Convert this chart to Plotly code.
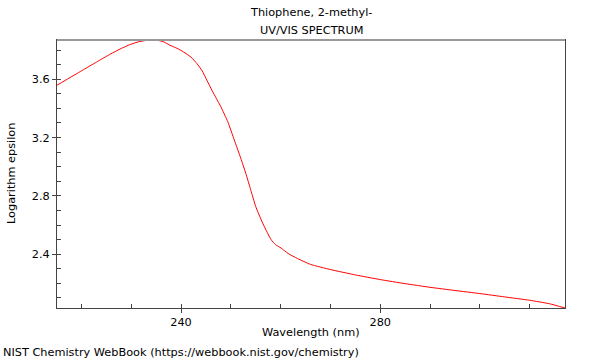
import plotly.graph_objects as go

wavelength_nm = [215.1, 217.5, 220.4, 223.0, 225.8, 228.0, 229.8, 231.5, 232.8, 234.2,
                 235.4, 236.6, 237.8, 239.2, 240.5, 242.0, 243.2, 244.2, 245.2, 246.2,
                 247.1, 248.0, 249.4, 250.7, 252.0, 253.0, 254.0, 255.0, 256.4, 257.3,
                 258.1, 259.0, 260.1, 261.5, 263.4, 266.0, 270.1, 275.0, 280.0, 285.0,
                 290.0, 295.0, 300.0, 305.0, 310.0, 314.0, 317.1]
log_epsilon = [3.559, 3.607, 3.665, 3.717, 3.772, 3.811, 3.838, 3.857, 3.865, 3.868,
               3.866, 3.855, 3.833, 3.812, 3.787, 3.752, 3.707, 3.660, 3.593, 3.525,
               3.468, 3.411, 3.308, 3.183, 3.058, 2.955, 2.841, 2.727, 2.613, 2.550,
               2.499, 2.465, 2.442, 2.405, 2.370, 2.330, 2.294, 2.258, 2.226, 2.198,
               2.173, 2.151, 2.130, 2.107, 2.084, 2.060, 2.031]

x_ticks = [240, 280]
y_ticks = [2.4, 2.8, 3.2, 3.6]

FONT = "DejaVu Sans"
FS = 11.3
L, R, T, B = 57, 565, 40, 308
PW, PH = R - L, B - T


def px(x):
    return (x - L) / PW


def py(y):
    return (B - y) / PH


fig = go.Figure()
fig.add_trace(go.Scatter(
    x=wavelength_nm, y=log_epsilon, mode="lines",
    line=dict(color="#ff0000", width=1, shape="spline", smoothing=0.5),
    hoverinfo="x+y", showlegend=False,
))

txt = dict(family=FONT, size=FS, color="#000")
annotations = [
    dict(text="Thiophene, 2-methyl-", x=px(311), y=py(13), xanchor="center", yanchor="middle"),
    dict(text="UV/VIS SPECTRUM", x=px(311), y=py(30), xanchor="center", yanchor="middle"),
    dict(text="Wavelength (nm)", x=px(311), y=py(332), xanchor="center", yanchor="middle"),
    dict(text="Logarithm epsilon", x=px(11), y=py(174), xanchor="center", yanchor="middle",
         textangle=-90),
    dict(text="NIST Chemistry WebBook (https://webbook.nist.gov/chemistry)", x=px(1), y=py(352),
         xanchor="left", yanchor="middle"),
]
for a in annotations:
    a.update(xref="paper", yref="paper", showarrow=False, font=txt)

fig.update_layout(
    width=600, height=360,
    margin=dict(l=L, r=600 - R, t=T, b=360 - B),
    paper_bgcolor="white", plot_bgcolor="white",
    font=txt,
    xaxis=dict(
        range=[215.1, 317.1], tickvals=x_ticks, ticks="outside", ticklen=4, tickcolor="#444",
        showgrid=False, zeroline=False, showline=True, linecolor="#444", linewidth=1,
        mirror=True, ticklabelstandoff=-1,
        minor=dict(dtick=10, tick0=200, ticks="inside", ticklen=4, tickcolor="#444", showgrid=False),
        tickfont=txt,
    ),
    yaxis=dict(
        range=[2.031, 3.869], tickvals=y_ticks, tickformat=".1f", ticks="outside", ticklen=4,
        tickcolor="#444",
        showgrid=False, zeroline=False, showline=True, linecolor="#444", linewidth=1,
        mirror=True,
        minor=dict(dtick=0.1, tick0=2.0, ticks="inside", ticklen=4, tickcolor="#444", showgrid=False),
        tickfont=txt,
    ),
    shapes=[dict(type="line", xref="paper", yref="paper", x0=0, x1=1, y0=1, y1=1,
                 line=dict(color="#999", width=2))],
    annotations=annotations,
)

fig.write_html("out.html", config={"displayModeBar": False},
               post_script="document.body.style.margin='0';")
